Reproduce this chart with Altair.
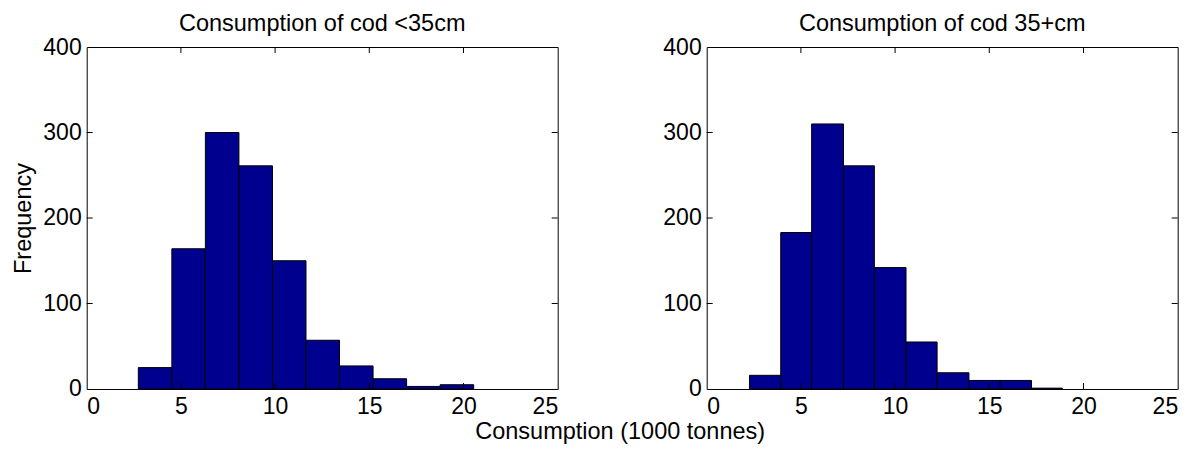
import altair as alt
import pandas as pd

# ---- data ----
left_edges = [2.74, 4.52, 6.30, 8.08, 9.86, 11.64, 13.42, 15.20, 16.98, 18.76, 20.54]
left_counts = [25, 164, 300, 261, 150, 57, 27, 12, 3, 5]

right_edges = [2.27, 3.93, 5.57, 7.26, 8.90, 10.58, 12.23, 13.92, 15.57, 17.24, 18.88]
right_counts = [16, 183, 310, 261, 142, 55, 19, 10, 10, 1]

x_ticks = [0, 5, 10, 15, 20, 25]
y_ticks = [0, 100, 200, 300, 400]

titles = ["Consumption of cod <35cm", "Consumption of cod 35+cm"]
x_title = "Consumption (1000 tonnes)"
y_title = "Frequency"

FONT = "Liberation Sans"
NAVY = "#00008F"
W, H = 471, 342
TICK = 6


def panel(edges, counts, title, first):
    df = pd.DataFrame({"start": edges[:-1], "end": edges[1:], "count": counts})
    xs = alt.Scale(domain=[x_ticks[0], x_ticks[-1]], nice=False, zero=False)
    ys = alt.Scale(domain=[y_ticks[0], y_ticks[-1]], nice=False)

    xaxis_kw = dict(values=x_ticks, tickSize=0, domain=False, grid=False,
                    labelPadding=6.5, labelFontSize=23, labelFont=FONT,
                    labelColor="black", format="d")
    yaxis_kw = dict(values=y_ticks, tickSize=0, domain=False, grid=False,
                    labelPadding=5.5, labelFontSize=23, labelFont=FONT,
                    labelColor="black", format="d")
    if first:
        xaxis = alt.Axis(title=x_title, titleFont=FONT, titleFontSize=23.5,
                         titleFontWeight="normal", titleColor="black",
                         titleX=533, titleY=50, titleAlign="center",
                         titleBaseline="alphabetic", **xaxis_kw)
        yaxis = alt.Axis(title=y_title, titleFont=FONT, titleFontSize=23.5,
                         titleFontWeight="normal", titleColor="black",
                         titleX=-56, titleY=H / 2, titleAngle=270,
                         titleAlign="center", titleBaseline="alphabetic",
                         **yaxis_kw)
    else:
        xaxis = alt.Axis(title=None, **xaxis_kw)
        yaxis = alt.Axis(title=None, **yaxis_kw)

    bars = alt.Chart(df).mark_rect(fill=NAVY, stroke="black", strokeWidth=1).encode(
        x=alt.X("start:Q", scale=xs, axis=xaxis),
        x2="end:Q",
        y=alt.Y("count:Q", scale=ys, axis=yaxis),
        y2=alt.datum(0),
    )

    xt = pd.DataFrame({"start": x_ticks[1:-1]})
    yt = pd.DataFrame({"count": y_ticks[1:-1]})
    rule = dict(color="black", strokeWidth=1)
    bottom = alt.Chart(xt).mark_rule(**rule).encode(
        x=alt.X("start:Q", scale=xs, axis=xaxis), y=alt.value(H), y2=alt.value(H - TICK))
    top = alt.Chart(xt).mark_rule(**rule).encode(
        x=alt.X("start:Q", scale=xs, axis=xaxis), y=alt.value(0), y2=alt.value(TICK))
    left = alt.Chart(yt).mark_rule(**rule).encode(
        y=alt.Y("count:Q", scale=ys, axis=yaxis), x=alt.value(0), x2=alt.value(TICK))
    right = alt.Chart(yt).mark_rule(**rule).encode(
        y=alt.Y("count:Q", scale=ys, axis=yaxis), x=alt.value(W), x2=alt.value(W - TICK))

    return alt.layer(bars, bottom, top, left, right).properties(
        width=W, height=H,
        title=alt.TitleParams(title, font=FONT, fontSize=23.5, fontWeight="normal",
                              color="black", anchor="middle", frame="group",
                              baseline="alphabetic", offset=-18),
    )


chart = alt.hconcat(
    panel(left_edges, left_counts, titles[0], True),
    panel(right_edges, right_counts, titles[1], False),
    spacing=149,
    bounds="flush",
).properties(
    padding={"left": 10.7, "top": 11, "right": 5, "bottom": 5},
    background="white",
).configure_view(
    stroke="black", strokeWidth=1,
)

chart.save("out.html", embed_options={"renderer": "svg", "actions": False})
